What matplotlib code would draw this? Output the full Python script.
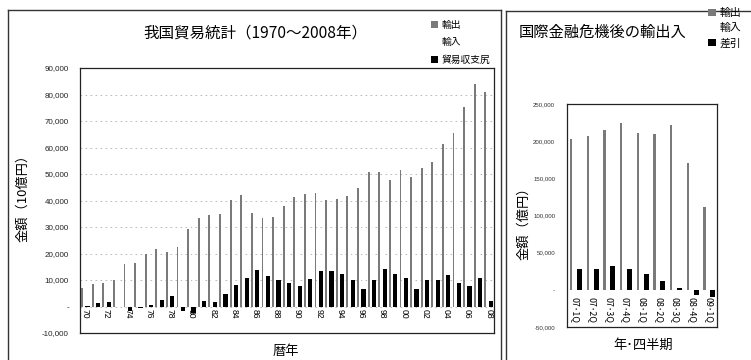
import matplotlib
matplotlib.use("Agg")
import matplotlib.pyplot as plt
import numpy as np
from matplotlib.lines import Line2D

plt.rcParams['font.family'] = ['Noto Sans CJK JP', 'DejaVu Sans']
NUM_FONT = ['Liberation Sans', 'Noto Sans CJK JP']

# ---- Annual trade statistics, 1970-2008 (10億円) ----
year_labels = ['70', '71', '72', '73', '74', '75', '76', '77', '78', '79',
               '80', '81', '82', '83', '84', '85', '86', '87', '88', '89',
               '90', '91', '92', '93', '94', '95', '96', '97', '98', '99',
               '00', '01', '02', '03', '04', '05', '06', '07', '08']
exports = [6954, 8393, 8806, 10031, 16208, 16545, 19935, 21648, 20556, 22532,
           29382, 33469, 34433, 34909, 40325, 41956, 35290, 33315, 33939, 37823,
           41457, 42360, 43012, 40202, 40498, 41531, 44731, 50938, 50645, 47548,
           51654, 48979, 52109, 54548, 61170, 65657, 75246, 83931, 81018]
imports = [6797, 6910, 7229, 10404, 18076, 17170, 19229, 19132, 16728, 24245,
           31995, 31464, 32656, 30015, 32321, 31085, 21551, 21737, 24006, 28979,
           33855, 31900, 29527, 26826, 28104, 31549, 37993, 40956, 36653, 35268,
           40938, 42416, 42228, 44362, 49217, 56949, 67344, 73136, 78955]
balance = [157, 1483, 1577, -373, -1868, -625, 706, 2516, 3828, -1713,
           -2613, 2005, 1777, 4894, 8004, 10871, 13739, 11578, 9933, 8844,
           7602, 10460, 13485, 13376, 12394, 9982, 6738, 9982, 13992, 12280,
           10716, 6563, 9881, 10186, 11953, 8708, 7902, 10795, 2063]
annual_yticks = [-10000, 0, 10000, 20000, 30000, 40000, 50000, 60000, 70000, 80000, 90000]
annual_yticklabels = ['-10,000', '-', '10,000', '20,000', '30,000', '40,000',
                      '50,000', '60,000', '70,000', '80,000', '90,000']

# ---- Quarterly trade after the financial crisis (億円) ----
quarter_labels = ['07･1Q', '07･2Q', '07･3Q', '07･4Q', '08･1Q', '08･2Q', '08･3Q', '08･4Q', '09･1Q']
exports_q = [202700, 207000, 215000, 224000, 210800, 210000, 221600, 171000, 112000]
imports_q = [174700, 179000, 182600, 196000, 189200, 198700, 219300, 177800, 121000]
balance_q = [28000, 28000, 32400, 28000, 21600, 11300, 2300, -6800, -9000]
quarter_yticks = [-50000, 0, 50000, 100000, 150000, 200000, 250000]
quarter_yticklabels = ['-50,000', '-', '50,000', '100,000', '150,000', '200,000', '250,000']

W, H = 751, 360
fig = plt.figure(figsize=(W / 100, H / 100), dpi=100)
fig.patch.set_facecolor('white')

def fx(px):
    return px / W

def fy(py):
    return 1 - py / H

EXP_C = '#7a7a7a'
BAL_C = '#000000'
FRAME_C = '#333333'

# panel frames
fig.add_artist(Line2D([fx(8), fx(8)], [fy(10), fy(362)], color=FRAME_C, lw=1.0))
fig.add_artist(Line2D([fx(8), fx(501)], [fy(10), fy(10)], color=FRAME_C, lw=1.0))
fig.add_artist(Line2D([fx(501), fx(501)], [fy(10), fy(362)], color=FRAME_C, lw=1.0))
fig.add_artist(Line2D([fx(506), fx(506)], [fy(11), fy(362)], color=FRAME_C, lw=1.0))
fig.add_artist(Line2D([fx(506), fx(752)], [fy(11), fy(11)], color=FRAME_C, lw=1.0))

# ================= annual chart =================
ax1_left, ax1_right = 80, 494
ax1 = fig.add_axes([fx(ax1_left), fy(333), fx(ax1_right) - fx(ax1_left), fy(68) - fy(333)])
x = np.arange(len(year_labels))
b_exp = ax1.bar(x - 0.31, exports, width=0.17, color=EXP_C, linewidth=0, zorder=3)
b_imp = ax1.bar(x - 0.1, imports, width=0.2, color='white', linewidth=0, zorder=2)
b_bal = ax1.bar(x + 0.2, balance, width=0.4, color=BAL_C, linewidth=0, zorder=3)
ax1.set_xlim(-0.5, len(year_labels) - 0.5)
ax1.set_ylim(-10000, 90000)
ax1.set_yticks(annual_yticks)
ax1.set_yticklabels(annual_yticklabels, family=NUM_FONT, fontsize=5.8, color='#222222')
ax1.set_xticks(x[::2])
ax1.set_xticklabels(year_labels[::2], rotation=270, family=NUM_FONT, fontsize=6.2, va='top')
ax1.tick_params(axis='x', length=0, pad=-17.5)
ax1.tick_params(axis='y', length=0, pad=8)
ax1.yaxis.grid(True, linestyle=(0, (2, 4)), color='#b0b0b0', linewidth=0.6, zorder=0)
ax1.set_axisbelow(True)
for s in ax1.spines.values():
    s.set_color('#222222')
    s.set_linewidth(0.9)
ax1.set_ylabel('金額（10億円）', fontsize=9.5)
ax1.yaxis.set_label_coords((29 - ax1_left) / (ax1_right - ax1_left), 0.52)
fig.text(fx(255), fy(33), '我国貿易統計（1970～2008年）', fontsize=11.2, ha='center', va='center')
fig.text(fx(286), fy(352), '暦年', fontsize=9.5, ha='center', va='center')
fig.legend([b_exp, b_imp, b_bal], ['輸出', '輸入', '貿易収支尻'],
           loc='upper left', bbox_to_anchor=(fx(431), fy(20)), frameon=False,
           fontsize=7, handlelength=0.7, handleheight=0.7, handletextpad=0.35,
           labelspacing=0.75, borderpad=0, borderaxespad=0)

# ================= quarterly chart =================
ax2_left, ax2_right = 567, 717
ax2 = fig.add_axes([fx(ax2_left), fy(327), fx(ax2_right) - fx(ax2_left), fy(104) - fy(327)])
xq = np.arange(len(quarter_labels))
q_exp = ax2.bar(xq - 0.25, exports_q, width=0.14, color=EXP_C, linewidth=0, zorder=3)
q_imp = ax2.bar(xq - 0.02, imports_q, width=0.2, color='white', linewidth=0, zorder=2)
q_bal = ax2.bar(xq + 0.24, balance_q, width=0.3, color=BAL_C, linewidth=0, zorder=3)
ax2.set_xlim(-0.5, len(quarter_labels) - 0.5)
ax2.set_ylim(-50000, 250000)
ax2.set_yticks(quarter_yticks)
ax2.set_yticklabels(quarter_yticklabels, family=NUM_FONT, fontsize=4.4, color='#333333')
ax2.set_xticks(xq)
ax2.set_xticklabels(quarter_labels, rotation=270, fontsize=6.4, va='top')
ax2.tick_params(axis='x', length=0, pad=-21.5)
ax2.tick_params(axis='y', length=0, pad=8.5)
for s in ax2.spines.values():
    s.set_color('#222222')
    s.set_linewidth(0.9)
ax2.set_ylabel('金額（億円）', fontsize=9.5)
ax2.yaxis.set_label_coords((530 - ax2_left) / (ax2_right - ax2_left), 0.48)
fig.text(fx(603), fy(32), '国際金融危機後の輸出入', fontsize=11, ha='center', va='center')
fig.text(fx(643), fy(345), '年･四半期', fontsize=9.5, ha='center', va='center')
fig.legend([q_exp, q_imp, q_bal], ['輸出', '輸入', '差引'],
           loc='upper left', bbox_to_anchor=(fx(708), fy(8)), frameon=False,
           fontsize=7.8, handlelength=0.7, handleheight=0.7, handletextpad=0.35,
           labelspacing=0.45, borderpad=0, borderaxespad=0)

fig.savefig('out.png', dpi=100, facecolor='white')
